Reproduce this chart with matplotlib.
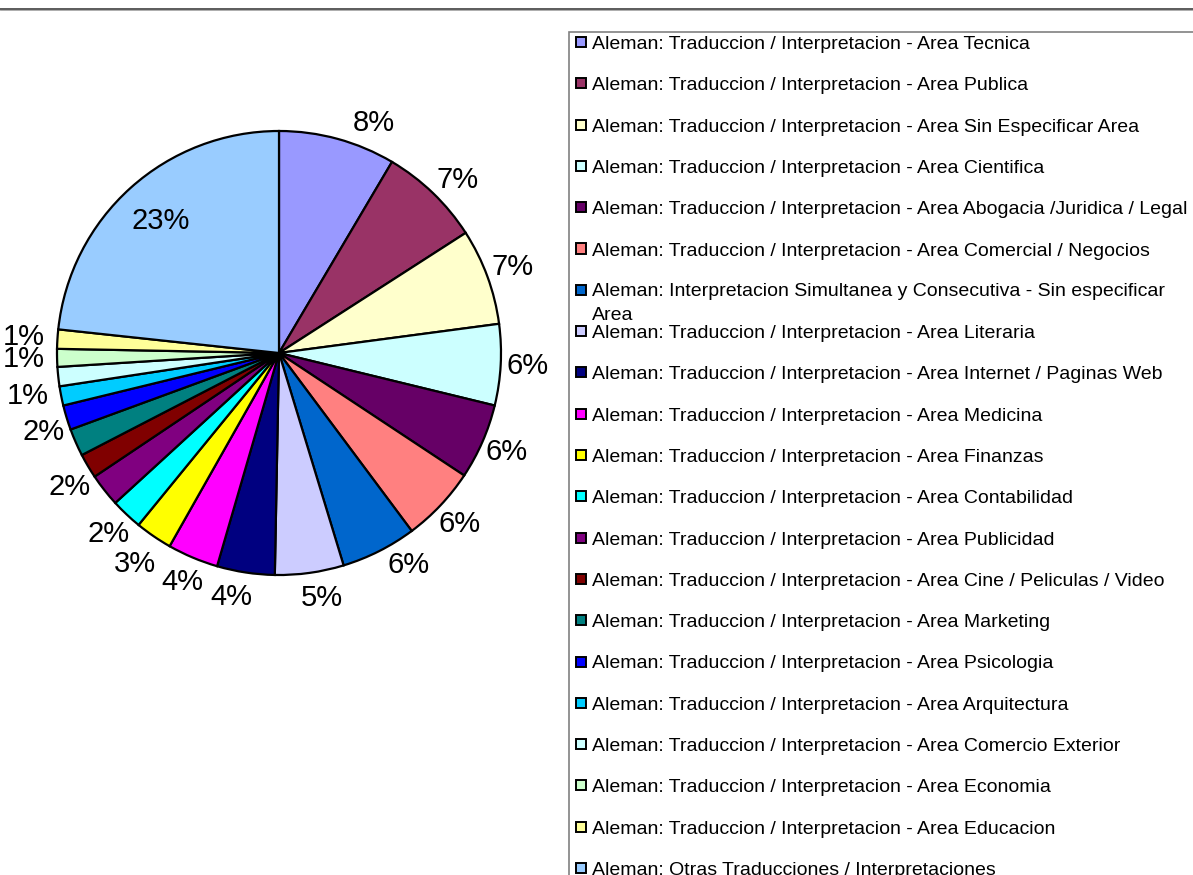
import numpy as np
import matplotlib
matplotlib.use("Agg")
from matplotlib import pyplot as plt
from matplotlib.patches import Rectangle
from matplotlib.lines import Line2D

plt.rcParams['font.family'] = ['Liberation Sans', 'DejaVu Sans']

categories = [
    'Aleman: Traduccion / Interpretacion - Area Tecnica',
    'Aleman: Traduccion / Interpretacion - Area Publica',
    'Aleman: Traduccion / Interpretacion - Area Sin Especificar Area',
    'Aleman: Traduccion / Interpretacion - Area Cientifica',
    'Aleman: Traduccion / Interpretacion - Area Abogacia /Juridica / Legal',
    'Aleman: Traduccion / Interpretacion - Area Comercial / Negocios',
    'Aleman: Interpretacion Simultanea y Consecutiva - Sin especificar\nArea',
    'Aleman: Traduccion / Interpretacion - Area Literaria',
    'Aleman: Traduccion / Interpretacion - Area Internet / Paginas Web',
    'Aleman: Traduccion / Interpretacion - Area Medicina',
    'Aleman: Traduccion / Interpretacion - Area Finanzas',
    'Aleman: Traduccion / Interpretacion - Area Contabilidad',
    'Aleman: Traduccion / Interpretacion - Area Publicidad',
    'Aleman: Traduccion / Interpretacion - Area Cine / Peliculas / Video',
    'Aleman: Traduccion / Interpretacion - Area Marketing',
    'Aleman: Traduccion / Interpretacion - Area Psicologia',
    'Aleman: Traduccion / Interpretacion - Area Arquitectura',
    'Aleman: Traduccion / Interpretacion - Area Comercio Exterior',
    'Aleman: Traduccion / Interpretacion - Area Economia',
    'Aleman: Traduccion / Interpretacion - Area Educacion',
    'Aleman: Otras Traducciones / Interpretaciones',
]

shares = [8.5, 7.4, 7.0, 5.9, 5.5, 5.5, 5.5, 5.0, 4.2, 3.7, 2.7,
          2.3, 2.4, 1.8, 2.0, 1.8, 1.4, 1.4, 1.3, 1.4, 23.3]

# labels Excel actually shows (overlapping ones are hidden)
pct_labels = ['8%', '7%', '7%', '6%', '6%', '6%', '6%', '5%', '4%', '4%', '3%',
              '2%', '', '2%', '', '2%', '1%', '', '1%', '1%', '23%']

colors = ['#9999FF', '#993366', '#FFFFCC', '#CCFFFF', '#660066', '#FF8080',
          '#0066CC', '#CCCCFF', '#000080', '#FF00FF', '#FFFF00', '#00FFFF',
          '#800080', '#800000', '#008080', '#0000FF', '#00CCFF', '#CCFFFF',
          '#CCFFCC', '#FFFF99', '#99CCFF']

# small angle nudges (degrees, clockwise) Excel applies to some labels
label_nudge = {0: 7, 1: 2, 6: -4.5, 7: -2, 8: 2.5, 13: -2, 15: -1.5, 16: 1.5}

W, H = 1193, 875


def fx(x):
    return x / W


def fy(y):
    return 1 - y / H


fig = plt.figure(figsize=(W / 100, H / 100), dpi=100)

# pie
cx, cy, r = 279, 353, 222
ax = fig.add_axes([fx(cx - r), fy(cy + r), 2 * r / W, 2 * r / H])
wedges, _ = ax.pie(shares, colors=colors, startangle=90, counterclock=False,
                   wedgeprops=dict(edgecolor='black', linewidth=1.6))
ax.set_xlim(-1, 1)
ax.set_ylim(-1, 1)
ax.axis('off')

for i, (w, lab) in enumerate(zip(wedges, pct_labels)):
    if not lab:
        continue
    mid = np.deg2rad((w.theta1 + w.theta2) / 2 - label_nudge.get(i, 0))
    if i == len(wedges) - 1:
        dist = 0.8
    elif lab == '1%' or i == 10:
        dist = 1.15
    else:
        dist = 1.12
    ax.text(dist * np.cos(mid), dist * np.sin(mid), lab, fontsize=21,
            ha='center', va='center', clip_on=False)

# top border line
fig.add_artist(Line2D([0, 1], [fy(8.5), fy(8.5)], color='#404040', lw=1.2))
fig.add_artist(Line2D([0, 1], [fy(9.8), fy(9.8)], color='#a0a0a0', lw=0.6))

# legend box
fig.add_artist(Rectangle((fx(569), fy(900)), fx(700), fy(32) - fy(900),
                         facecolor='none', edgecolor='#808080', lw=1.2))

pitch = 41.3
for i, (name, c) in enumerate(zip(categories, colors)):
    yc = 42 + pitch * i
    fig.add_artist(Rectangle((fx(576), fy(yc + 5)), fx(10), fy(yc - 5) - fy(yc + 5),
                             facecolor=c, edgecolor='black', lw=1.4))
    # baseline alignment uses the last line, so push multi-line labels down
    extra = name.count('\n') * 23
    fig.text(fx(592), fy(yc + 7 + extra), name, fontsize=14, ha='left',
             va='baseline', linespacing=1.55)

fig.savefig('out.png', dpi=100)
